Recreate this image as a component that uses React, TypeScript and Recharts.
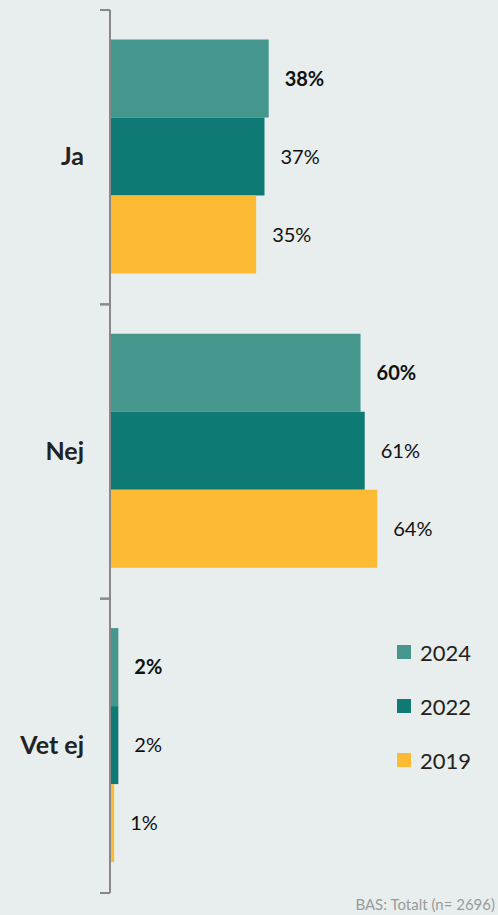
import { BarChart, Bar, XAxis, YAxis, LabelList } from "recharts";

const categories = ["Ja", "Nej", "Vet ej"];
const values2024 = [38, 60, 2];
const values2022 = [37, 61, 2];
const values2019 = [35, 64, 1];

const SERIES = [
  { key: "y2024", name: "2024", color: "#45968d", bold: true },
  { key: "y2022", name: "2022", color: "#0f7a74", bold: false },
  { key: "y2019", name: "2019", color: "#fdbb33", bold: false },
];

const data = categories.map((label, i) => ({
  label,
  y2024: values2024[i],
  y2022: values2022[i],
  y2019: values2019[i],
}));

const WIDTH = 498;
const HEIGHT = 915;
const MARGIN = { top: 10, right: 8, bottom: 22, left: 0 };
const FONT = "Lato, 'Open Sans', sans-serif";
const BAND = (HEIGHT - MARGIN.top - MARGIN.bottom) / categories.length;

function CategoryTick(props: any) {
  const { x, y, payload } = props;
  return (
    <g>
      <line x1={x + 16} x2={x + 26} y1={y - BAND / 2} y2={y - BAND / 2} stroke="#888" strokeWidth={2} />
      <line x1={x + 16} x2={x + 26} y1={y + BAND / 2} y2={y + BAND / 2} stroke="#888" strokeWidth={2} />
      <text
        x={x}
        y={y}
        dy={8}
        textAnchor="end"
        fontFamily={FONT}
        fontSize={25}
        fontWeight={700}
        fill="#222"
      >
        {payload.value}
      </text>
    </g>
  );
}

function LegendBox() {
  return (
    <div style={{ position: "absolute", left: 397, top: 625, fontFamily: FONT }}>
      {SERIES.map((s) => (
        <div key={s.key} style={{ display: "flex", alignItems: "center", height: 54 }}>
          <span style={{ width: 14, height: 14, background: s.color, marginRight: 9 }} />
          <span style={{ fontSize: 22, color: "#222" }}>{s.name}</span>
        </div>
      ))}
    </div>
  );
}

export default function App() {
  return (
    <div
      style={{
        position: "fixed",
        top: 0,
        left: 0,
        width: WIDTH,
        height: HEIGHT,
        background: "#e7eeed",
      }}
    >
      <BarChart
        layout="vertical"
        width={WIDTH}
        height={HEIGHT}
        data={data}
        margin={MARGIN}
        barGap={0}
        barCategoryGap="10%"
      >
        <XAxis type="number" domain={[0, 91]} hide />
        <YAxis
          type="category"
          dataKey="label"
          width={110}
          axisLine={{ stroke: "#888", strokeWidth: 2 }}
          tickLine={false}
          tickSize={0}
          tickMargin={26}
          tick={<CategoryTick />}
        />
        {SERIES.map((s) => (
          <Bar key={s.key} dataKey={s.key} name={s.name} fill={s.color} isAnimationActive={false}>
            <LabelList
              dataKey={s.key}
              position="right"
              offset={16}
              formatter={(v: any) => `${v}%`}
              style={{
                fill: "#111",
                fontSize: 20,
                fontFamily: FONT,
                fontWeight: s.bold ? 700 : 400,
              }}
            />
          </Bar>
        ))}
      </BarChart>
      <LegendBox />
      <div
        style={{
          position: "absolute",
          right: 3,
          bottom: 2,
          fontFamily: FONT,
          fontSize: 15,
          color: "#9a9a9a",
        }}
      >
        BAS: Totalt (n= 2696)
      </div>
    </div>
  );
}
